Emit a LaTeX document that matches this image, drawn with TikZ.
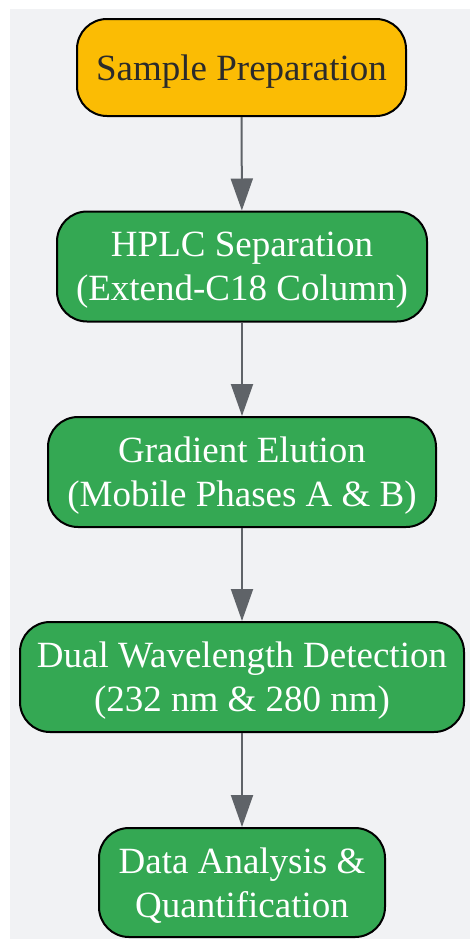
\documentclass[tikz,border=0pt]{standalone}
\usepackage{fontspec}
\setmainfont{Liberation Serif}
\usetikzlibrary{arrows.meta}
\definecolor{bgc}{HTML}{F1F2F4}
\definecolor{yel}{HTML}{FBBC04}
\definecolor{grn}{HTML}{34A853}
\definecolor{arr}{HTML}{5F6368}
\definecolor{txtd}{HTML}{2B2B2B}
\tikzset{
  box/.style={draw=black, line width=2pt, rounded corners=30pt, align=center,
    inner sep=0pt, text depth=0pt, font=\fontsize{37}{44}\selectfont},
  startbox/.style={box, fill=yel, text=txtd},
  stepbox/.style={box, fill=grn, text=white},
  flow/.style={draw=arr, line width=2pt, -{Triangle[length=32pt,width=22pt]}}
}
\begin{document}
\begin{tikzpicture}[x=1pt,y=-1pt]
\useasboundingbox (0,0) rectangle (470,940);
\fill[bgc] (10,9) rectangle (470,939);
\node[startbox, minimum width=329pt, minimum height=97pt] (s) at (241.5,67.5) {Sample Preparation};
\node[stepbox, minimum width=370pt, minimum height=110pt] (h) at (242,266.5) {HPLC Separation\\(Extend-C18 Column)};
\node[stepbox, minimum width=388pt, minimum height=110pt] (g) at (242,472) {Gradient Elution\\(Mobile Phases A \& B)};
\node[stepbox, minimum width=444pt, minimum height=110pt] (d) at (242,677) {Dual Wavelength Detection\\(232 nm \& 280 nm)};
\node[stepbox, minimum width=286pt, minimum height=109pt] (a) at (242,882.5) {Data Analysis \&\\Quantification};
\draw[flow] (s) -- (h);
\draw[flow] (h) -- (g);
\draw[flow] (g) -- (d);
\draw[flow] (d) -- (a);
\end{tikzpicture}
\end{document}
